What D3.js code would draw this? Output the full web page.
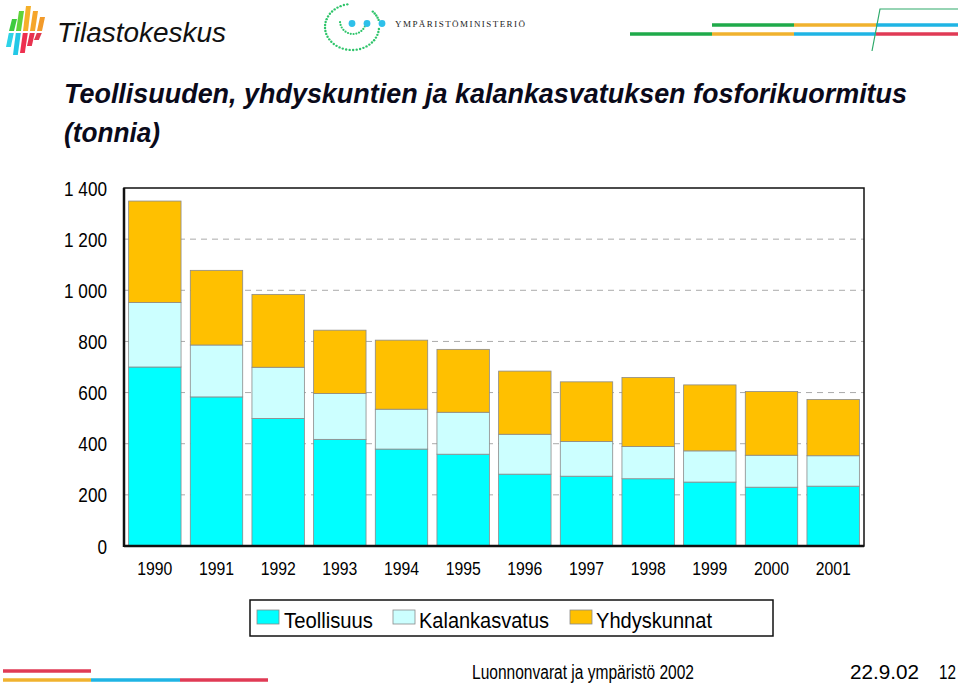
<!DOCTYPE html>
<html><head><meta charset="utf-8">
<script src="https://cdn.jsdelivr.net/npm/d3@7"></script>
<style>body{margin:0;background:#fff}svg{display:block}</style>
</head><body>
<script>
const years = ["1990","1991","1992","1993","1994","1995","1996","1997","1998","1999","2000","2001"];
const teollisuus = [700,583,499,417,379,359,281,273,263,250,230,234];
const kalankasvatus = [252,203,200,179,156,164,156,136,126,122,125,119];
const yhdyskunnat = [397,292,285,248,270,246,247,233,270,258,249,220];
const seriesNames = ["Teollisuus","Kalankasvatus","Yhdyskunnat"];
const seriesColors = ["#00FFFF","#CCFFFF","#FFC000"];
const yTicks = [0,200,400,600,800,1000,1200,1400];
const yTickLabels = ["0","200","400","600","800","1 000","1 200","1 400"];

const SANS="'Liberation Sans',Arial,sans-serif";
const W=960,H=686;
const svg=d3.select("body").append("svg").attr("width",W).attr("height",H).style("font-family",SANS);
function narrow(sel,f){sel.each(function(){const n=this.getComputedTextLength();d3.select(this).attr("textLength",n*f).attr("lengthAdjust","spacingAndGlyphs");});}

// ---- header decorations ----
const logo=svg.append("g");
const cols=[
 {x:9, t:19,c1:"#3DCB3D",c2:"#2ED3E8",b:47},
 {x:16,t:11,c1:"#5FD33A",c2:"#22C8E6",b:55},
 {x:23,t:6, c1:"#F5B02A",c2:"#EE2F4F",b:53},
 {x:30,t:11,c1:"#F5A52A",c2:"#E8324F",b:46},
 {x:37,t:17,c1:"#F29A2A",c2:"#E03A4F",b:40}];
cols.forEach(c=>{
  const sk=3;
  logo.append("polygon").attr("points",`${c.x+sk},${c.t} ${c.x+sk+5},${c.t} ${c.x+5},31 ${c.x},31`).attr("fill",c.c1);
  logo.append("polygon").attr("points",`${c.x-0.2},33 ${c.x+4.8},33 ${c.x+4.8-sk},${c.b} ${c.x-sk},${c.b}`).attr("fill",c.c2);
});
svg.append("text").attr("x",57).attr("y",42).attr("font-size",27).attr("font-style","italic")
  .attr("textLength",169).attr("lengthAdjust","spacingAndGlyphs").attr("fill","#111").text("Tilastokeskus");

// ministry logo dotted arcs
const ym=svg.append("g");
function dotArc(cx,cy,rx,ry,a0,a1,n,r){
  for(let i=0;i<=n;i++){const a=(a0+(a1-a0)*i/n)*Math.PI/180;
    ym.append("circle").attr("cx",cx+rx*Math.cos(a)).attr("cy",cy+ry*Math.sin(a)).attr("r",r).attr("fill","#2EC46A");}
}
dotArc(352,27,27,23,-100,-355,34,1.2);
dotArc(352,27,28,23,-42,-18,4,1.2);
dotArc(353,21,13,13,175,25,12,1.1);
[352,367,382].forEach(x=>ym.append("circle").attr("cx",x).attr("cy",23.5).attr("r",3.4).attr("fill","#2EC0EA"));
svg.append("text").attr("x",395).attr("y",27).attr("font-size",9).style("font-family","'Liberation Serif','DejaVu Serif',serif")
  .attr("textLength",130).attr("lengthAdjust","spacing").attr("fill","#222").text("YMPÄRISTÖMINISTERIÖ");

// top-right lines
const tr=svg.append("g");
[[712,794,"#1FAA4A",25],[794,876,"#F0B22E",25],[876,958,"#1FB4E4",25],
 [630,712,"#1FAA4A",34],[712,794,"#F0B22E",34],[794,876,"#1FB4E4",34],[876,958,"#E03A55",34]].forEach(d=>{
  tr.append("line").attr("x1",d[0]).attr("x2",d[1]).attr("y1",d[3]).attr("y2",d[3]).attr("stroke",d[2]).attr("stroke-width",3.5);
});
const defs=svg.append("defs");
const g1=defs.append("linearGradient").attr("id","fadeG").attr("x1","0").attr("x2","1");
g1.append("stop").attr("offset","0").attr("stop-color","#2EAA6A").attr("stop-opacity",0);
g1.append("stop").attr("offset","0.25").attr("stop-color","#2EAA6A").attr("stop-opacity",1);
g1.append("stop").attr("offset","1").attr("stop-color","#2EAA6A").attr("stop-opacity",1);
tr.append("line").attr("x1",660).attr("x2",872).attr("y1",51).attr("y2",51).attr("stroke","url(#fadeG)").attr("stroke-width",1.2);
tr.append("polyline").attr("points","872,51 880,9 958,9").attr("fill","none").attr("stroke","#2EAA6A").attr("stroke-width",1.2);

// footer lines
const fl=svg.append("g");
fl.append("line").attr("x1",3).attr("x2",91).attr("y1",671).attr("y2",671).attr("stroke","#E03A55").attr("stroke-width",3.5);
[[3,91,"#F0B22E"],[91,180,"#1FB4E4"],[180,268,"#E03A55"]].forEach(d=>
  fl.append("line").attr("x1",d[0]).attr("x2",d[1]).attr("y1",680).attr("y2",680).attr("stroke",d[2]).attr("stroke-width",3.5));
const g2=defs.append("linearGradient").attr("id","fadeR").attr("x1","0").attr("x2","1");
g2.append("stop").attr("offset","0").attr("stop-color","#C04A60").attr("stop-opacity",1);
g2.append("stop").attr("offset","1").attr("stop-color","#C04A60").attr("stop-opacity",0);
fl.append("line").attr("x1",268).attr("x2",460).attr("y1",681).attr("y2",681).attr("stroke","url(#fadeR)").attr("stroke-width",1.5);

// footer text
svg.append("text").attr("x",472).attr("y",679).attr("font-size",20).attr("textLength",222).attr("lengthAdjust","spacingAndGlyphs").text("Luonnonvarat ja ympäristö 2002");
svg.append("text").attr("x",850).attr("y",679).attr("font-size",20).attr("textLength",69).attr("lengthAdjust","spacingAndGlyphs").text("22.9.02");
svg.append("text").attr("x",939).attr("y",679).attr("font-size",20).attr("textLength",17).attr("lengthAdjust","spacingAndGlyphs").text("12");

// title
svg.append("text").attr("x",64).attr("y",103).attr("font-size",28).attr("font-weight","bold").attr("font-style","italic")
  .attr("textLength",843).attr("lengthAdjust","spacingAndGlyphs").attr("fill","#0a0a1a")
  .text("Teollisuuden, yhdyskuntien ja kalankasvatuksen fosforikuormitus");
svg.append("text").attr("x",64).attr("y",142).attr("font-size",28).attr("font-weight","bold").attr("font-style","italic")
  .attr("textLength",96).attr("lengthAdjust","spacingAndGlyphs").attr("fill","#0a0a1a").text("(tonnia)");

// ---- chart ----
const L=124,R=864,T=188,B=546;
const x=d3.scaleBand().domain(years).range([L,R]).paddingInner(0.15).paddingOuter(0.075);
const y=d3.scaleLinear().domain([0,1400]).range([B,T]);

// gridlines
svg.append("g").selectAll("line").data(yTicks.filter(v=>v>0&&v<1400)).join("line")
  .attr("x1",L).attr("x2",R).attr("y1",d=>y(d)).attr("y2",d=>y(d))
  .attr("stroke","#aaa").attr("stroke-width",1).attr("stroke-dasharray","6,5");

const data=years.map((yr,i)=>({year:yr,Teollisuus:teollisuus[i],Kalankasvatus:kalankasvatus[i],Yhdyskunnat:yhdyskunnat[i]}));
const stack=d3.stack().keys(seriesNames)(data);
svg.append("g").selectAll("g").data(stack).join("g").attr("fill",(d,i)=>seriesColors[i])
  .selectAll("rect").data(d=>d).join("rect")
  .attr("x",d=>x(d.data.year)).attr("width",x.bandwidth())
  .attr("y",d=>y(d[1])).attr("height",d=>y(d[0])-y(d[1]))
  .attr("stroke","#8a8a8a").attr("stroke-width",0.8);

// frame
svg.append("rect").attr("x",L).attr("y",T).attr("width",R-L).attr("height",B-T).attr("fill","none").attr("stroke","#111").attr("stroke-width",1.5);
svg.append("line").attr("x1",L).attr("x2",L).attr("y1",T).attr("y2",B+1).attr("stroke","#111").attr("stroke-width",2.5);
svg.append("line").attr("x1",L).attr("x2",R).attr("y1",B).attr("y2",B).attr("stroke","#111").attr("stroke-width",2.5);

// y axis labels
const yAxis=d3.axisLeft(y).tickValues(yTicks).tickFormat((d,i)=>yTickLabels[i]).tickSize(0).tickPadding(17);
const ya=svg.append("g").attr("transform",`translate(${L},0)`).call(yAxis);
ya.select(".domain").remove();
ya.attr("font-family",null).attr("font-size",null);
ya.selectAll("text").attr("font-size",19.5).attr("fill","#000").attr("dy","0.36em");
narrow(ya.selectAll("text"),0.88);

// x axis labels
const xAxis=d3.axisBottom(x).tickSize(0).tickPadding(16);
const xa=svg.append("g").attr("transform",`translate(0,${B})`).call(xAxis);
xa.select(".domain").remove();
xa.attr("font-family",null).attr("font-size",null);
xa.selectAll("text").attr("font-size",19).attr("fill","#000");
narrow(xa.selectAll("text"),0.83);

// legend
const lg=svg.append("g");
lg.append("rect").attr("x",250).attr("y",600).attr("width",523).attr("height",36).attr("fill","#fff").attr("stroke","#111").attr("stroke-width",1.5);
const legX=[257,393,570], legTX=[284,419,596], legTW=[89,130,116];
seriesNames.forEach((s,i)=>{
  lg.append("rect").attr("x",legX[i]).attr("y",610).attr("width",22).attr("height",14).attr("fill",seriesColors[i]).attr("stroke","#8a8a8a").attr("stroke-width",0.8);
  lg.append("text").attr("x",legTX[i]).attr("y",628).attr("font-size",22).attr("textLength",legTW[i]).attr("lengthAdjust","spacingAndGlyphs").text(s);
});
</script>
</body></html>
